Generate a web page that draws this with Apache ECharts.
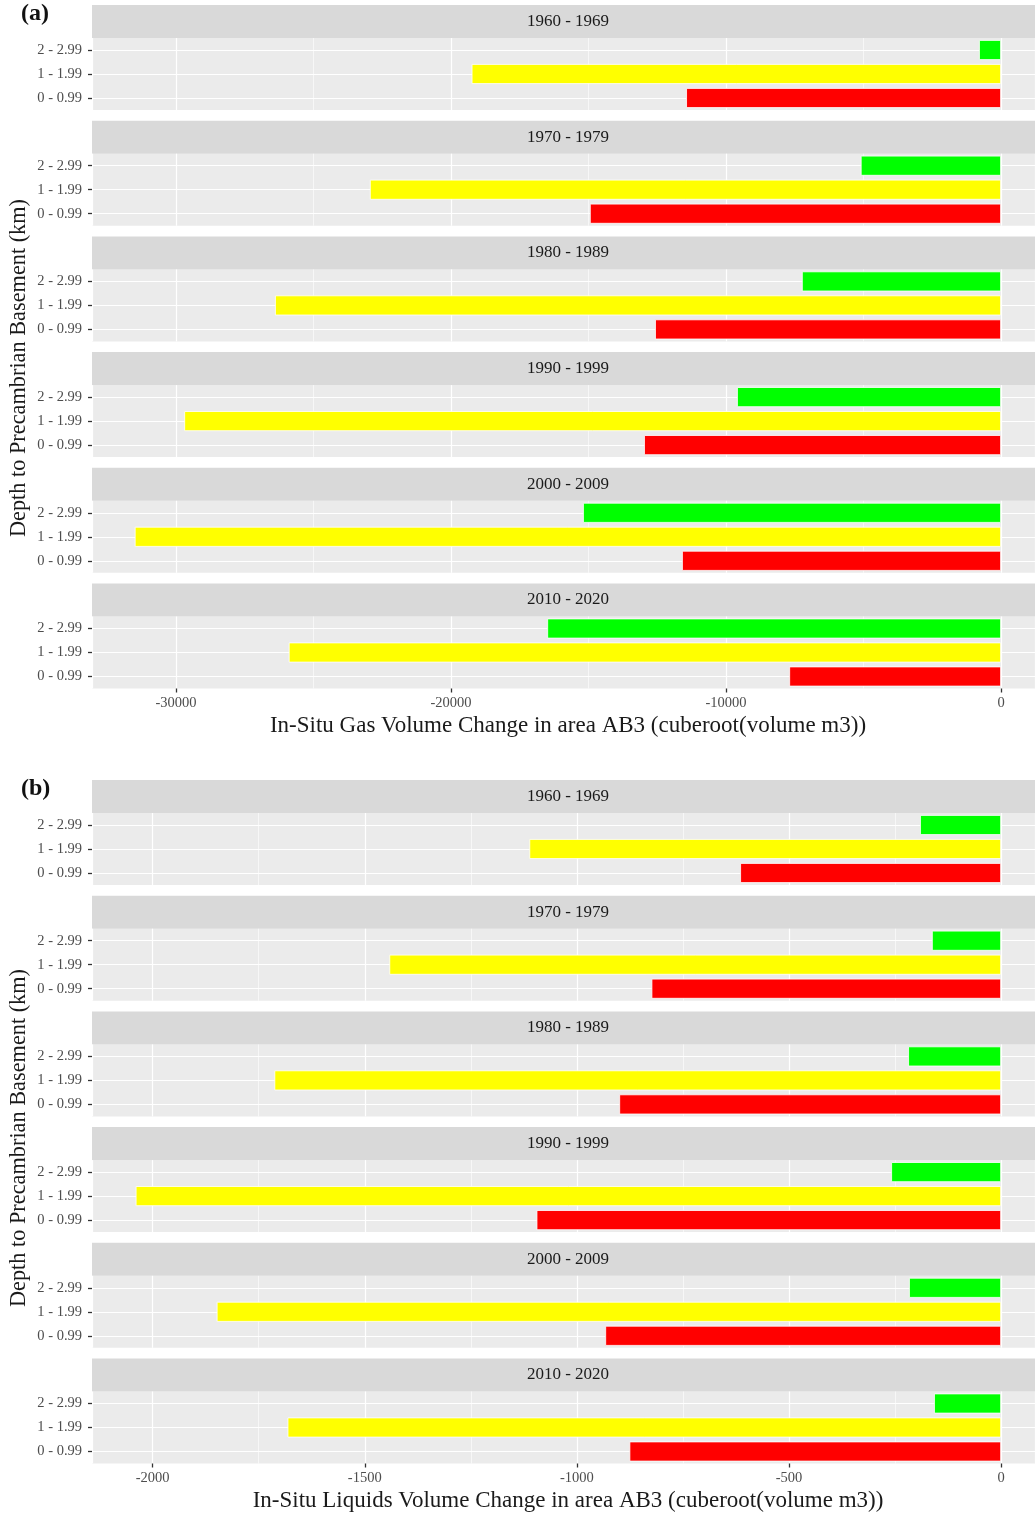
<!DOCTYPE html>
<html><head><meta charset="utf-8">
<script src="https://cdn.jsdelivr.net/npm/echarts@6/dist/echarts.min.js"></script>
<style>html,body{margin:0;padding:0;background:#fff}#c{width:1035px;height:1515px}</style>
</head><body><div id="c"></div>
<script>
const periods = ['1960 - 1969','1970 - 1979','1980 - 1989','1990 - 1999','2000 - 2009','2010 - 2020'];
const depthBins = ['0 - 0.99','1 - 1.99','2 - 2.99'];
const binColors = ['#ff0000','#ffff00','#00ff00'];

// (a) gas, one value per period
const gasShallow = [-11450, -14950, -12580, -12980, -11600, -7700];
const gasMid     = [-19250, -22950, -26400, -29700, -31500, -25900];
const gasDeep    = [-800, -5100, -7240, -9600, -15200, -16500];
// (b) liquids
const liqShallow = [-615, -824, -900, -1095, -933, -876];
const liqMid     = [-1112, -1442, -1713, -2040, -1849, -1682];
const liqDeep    = [-191, -163, -219, -259, -217, -158];

const gasTicks = [-30000, -20000, -10000, 0];
const liqTicks = [-2000, -1500, -1000, -500, 0];
const gasRange = [-33055, 1236];
const liqRange = [-2143, 80];

const gasTitle = 'In-Situ Gas Volume Change in area AB3 (cuberoot(volume m3))';
const liqTitle = 'In-Situ Liquids Volume Change in area AB3 (cuberoot(volume m3))';
const yTitle = 'Depth to Precambrian Basement (km)';

const FONT = '"Liberation Serif", "DejaVu Serif", serif';
const chart = echarts.init(document.getElementById('c'));
const grids = [], xAxes = [], yAxes = [], series = [], graphics = [];
const L = 92, W = 943, STEP = 115.7, STRIP = 33, PANEL = 72, CX = 568;

function addBlock(top0, vals, range, ticks, xTitle, letter, yCenter) {
  const step = ticks[1] - ticks[0];
  const splitNumber = Math.round((range[1] - range[0]) / step);
  periods.forEach((p, i) => {
    const st = top0 + i * STEP;
    const gi = grids.length;
    const bottom = i === periods.length - 1;
    grids.push({left: L, top: st + STRIP, width: W, height: PANEL, show: true,
      backgroundColor: '#ebebeb', borderWidth: 0, containLabel: false});
    xAxes.push({type: 'value', gridIndex: gi, min: range[0], max: range[1], splitNumber: splitNumber,
      axisLine: {show: false, onZero: false},
      axisTick: {show: bottom, length: 4, lineStyle: {color: '#333', width: 1.3}},
      axisLabel: {show: bottom, color: '#4d4d4d', fontSize: 14.5, fontFamily: FONT, margin: 7,
        showMinLabel: false, showMaxLabel: false,
        formatter: v => ticks.includes(v) ? String(v) : ''},
      splitLine: {show: true, lineStyle: {color: '#ffffff', width: 1.2}},
      minorTick: {show: false, splitNumber: 2},
      minorSplitLine: {show: true, lineStyle: {color: '#ffffff', width: 0.6}}});
    yAxes.push({type: 'category', gridIndex: gi, data: depthBins,
      axisLine: {show: false, onZero: false},
      axisTick: {show: true, alignWithLabel: true, length: 4, lineStyle: {color: '#333', width: 1.3}},
      axisLabel: {color: '#4d4d4d', fontSize: 14.5, fontFamily: FONT, margin: 10},
      splitLine: {show: false}});
    series.push({type: 'bar', xAxisIndex: gi, yAxisIndex: gi, barWidth: 20, z: 3,
      animation: false,
      itemStyle: {borderColor: '#ffffff', borderWidth: 0.8},
      data: depthBins.map((b, k) => ({value: vals[k][i], itemStyle: {color: binColors[k]}})),
      markLine: {silent: true, symbol: 'none', z: 1, animation: false, label: {show: false},
        lineStyle: {color: '#ffffff', width: 1.2, type: 'solid'},
        data: depthBins.map(b => ({yAxis: b}))}});
    graphics.push({type: 'rect', shape: {x: L, y: st, width: W, height: STRIP},
      style: {fill: '#d9d9d9'}, silent: true, z: 0});
    graphics.push({type: 'text', x: CX, y: st + STRIP / 2, silent: true, z: 1,
      style: {text: p, fill: '#1a1a1a', font: '17px ' + FONT, textAlign: 'center', textVerticalAlign: 'middle'}});
  });
  const lastBottom = top0 + (periods.length - 1) * STEP + STRIP + PANEL;
  graphics.push({type: 'text', x: CX, y: lastBottom + 37, silent: true,
    style: {text: xTitle, fill: '#1a1a1a', font: '23px ' + FONT, textAlign: 'center', textVerticalAlign: 'middle'}});
  graphics.push({type: 'text', x: 19, y: yCenter, rotation: Math.PI / 2, silent: true,
    style: {text: yTitle, fill: '#1a1a1a', font: '22.3px ' + FONT, textAlign: 'center', textVerticalAlign: 'middle'}});
  graphics.push({type: 'text', x: 21, y: top0 - 3, silent: true,
    style: {text: letter, fill: '#111', font: 'bold 24px ' + FONT, textAlign: 'left', textVerticalAlign: 'top'}});
}

addBlock(5, [gasShallow, gasMid, gasDeep], gasRange, gasTicks, gasTitle, '(a)', 368);
addBlock(780, [liqShallow, liqMid, liqDeep], liqRange, liqTicks, liqTitle, '(b)', 1138);

chart.setOption({
  animation: false,
  backgroundColor: '#ffffff',
  grid: grids, xAxis: xAxes, yAxis: yAxes, series: series, graphic: graphics
});
</script></body></html>
